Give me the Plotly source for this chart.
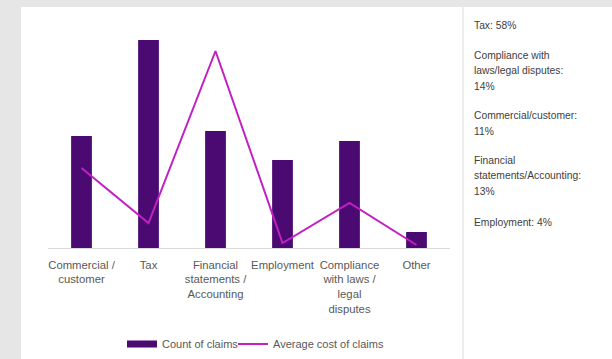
import plotly.graph_objects as go

categories = ["Commercial /<br>customer", "Tax", "Financial<br>statements /<br>Accounting",
              "Employment", "Compliance<br>with laws /<br>legal<br>disputes", "Other"]
count_of_claims = [112, 208, 117, 88, 107, 16]
average_cost = [80, 25, 197, 5, 45, 3]
side_notes = [["Tax: 58%"],
              ["Compliance with", "laws/legal disputes:", "14%"],
              ["Commercial/customer:", "11%"],
              ["Financial", "statements/Accounting:", "13%"],
              ["Employment: 4%"]]

W, H = 612, 359
L, R, T, B = 48, 450, 30, 248
pw, ph = R - L, B - T

def px(x):
    return (x - L) / pw

def py(y):
    return (B - y) / ph

BAR_COLOR = "#4b0a72"
LINE_COLOR = "#c21fc4"

fig = go.Figure()
fig.add_trace(go.Bar(x=categories, y=count_of_claims, name="Count of claims",
                     marker=dict(color=BAR_COLOR, line=dict(width=0)), width=0.31,
                     showlegend=False))
# legend swatch for the bars (wide rectangle as in the reference)
fig.add_trace(go.Scatter(x=[None], y=[None], name="Count of claims", mode="lines",
                         line=dict(color=BAR_COLOR, width=7), legendwidth=66))
fig.add_trace(go.Scatter(x=categories, y=average_cost, name="Average cost of claims",
                         mode="lines", line=dict(color=LINE_COLOR, width=2), yaxis="y2"))

shapes = [
    dict(type="rect", xref="paper", yref="paper", x0=px(21), x1=px(W + 5), y0=py(7), y1=py(H + 5),
         fillcolor="#ffffff", line=dict(width=0), layer="below"),
    dict(type="line", xref="paper", yref="paper", x0=px(463), x1=px(463), y0=py(7), y1=py(H + 5),
         line=dict(color="#dcdcdc", width=1)),
]

note_y = [25, 55, 116, 160, 222]
annotations = []
for lines, y0 in zip(side_notes, note_y):
    for i, t in enumerate(lines):
        annotations.append(dict(text=t, xref="paper", yref="paper", x=px(472), y=py(y0 + i * 15.5),
                                xanchor="left", yanchor="middle", align="left", showarrow=False,
                                font=dict(family="Liberation Sans, Arial", size=10.3, color="#404040")))

fig.update_layout(
    width=W, height=H,
    margin=dict(l=L, r=W - R, t=T, b=H - B, pad=0, autoexpand=False),
    paper_bgcolor="#e6e6e6", plot_bgcolor="rgba(0,0,0,0)",
    font=dict(family="Liberation Sans, Arial", size=11.3, color="#595959"),
    bargap=0.69,
    showlegend=True,
    legend=dict(orientation="h", xref="container", x=122 / W, xanchor="left",
                yref="container", y=1 - 344 / H, yanchor="middle",
                font=dict(size=11, color="#595959"), bgcolor="rgba(0,0,0,0)",
                itemwidth=30),
    xaxis=dict(showline=True, linecolor="#d9d9d9", linewidth=1, ticks="", showgrid=False,
               zeroline=False, fixedrange=True, automargin=False, ticklabelstandoff=6),
    yaxis=dict(range=[0, ph], visible=False, showgrid=False, zeroline=False),
    yaxis2=dict(range=[0, ph], visible=False, overlaying="y", side="right", showgrid=False,
                zeroline=False),
    shapes=shapes, annotations=annotations,
)
fig.write_html("out.html")
